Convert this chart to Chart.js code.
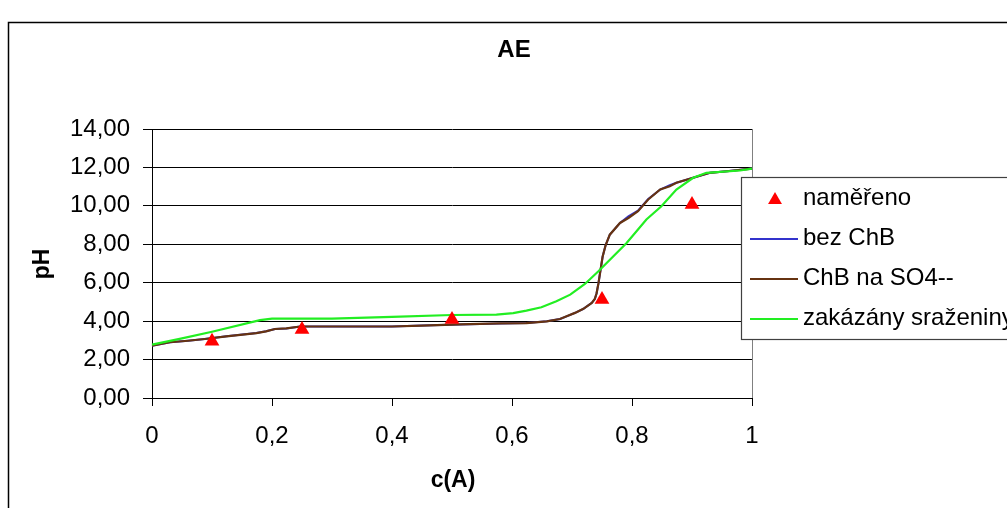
<!DOCTYPE html>
<html>
<head>
<meta charset="utf-8">
<script src="https://cdn.jsdelivr.net/npm/chart.js@4.4.1/dist/chart.umd.min.js"></script>
<style>
html,body{margin:0;padding:0;background:#fff;}
#wrap{width:1007px;height:508px;position:relative;}
</style>
</head>
<body>
<div id="wrap"><canvas id="c" width="1007" height="508"></canvas></div>
<script>
// ---- data ----
const chartTitle = "AE";
const xAxisTitle = "c(A)";
const yAxisTitle = "pH";
const seriesNames = ["naměřeno", "bez ChB", "ChB na SO4--", "zakázány sraženiny"];

const measuredC  = [0.10, 0.25, 0.50, 0.75, 0.90];
const measuredPH = [2.95, 3.56, 4.08, 5.12, 10.07];

const curveC = [0, 0.03, 0.06, 0.088, 0.124, 0.174, 0.19, 0.205, 0.224, 0.247, 0.30, 0.40, 0.45, 0.513, 0.58, 0.624, 0.658, 0.68, 0.691, 0.705, 0.719, 0.733, 0.738, 0.741, 0.744, 0.747, 0.751, 0.756, 0.763, 0.78, 0.794, 0.81, 0.827, 0.847, 0.863, 0.874, 0.902, 0.93, 0.958, 1.0, 1.013];
const bezChbPH = [2.72, 2.90, 2.98, 3.07, 3.21, 3.38, 3.47, 3.59, 3.62, 3.72, 3.72, 3.72, 3.77, 3.83, 3.88, 3.90, 3.99, 4.11, 4.25, 4.43, 4.64, 4.95, 5.15, 5.45, 5.95, 6.55, 7.35, 7.95, 8.50, 9.11, 9.45, 9.75, 10.36, 10.85, 11.08, 11.2, 11.46, 11.72, 11.80, 11.94, 11.94];
const chbSo4PH = [2.72, 2.90, 2.98, 3.07, 3.21, 3.38, 3.47, 3.59, 3.62, 3.72, 3.72, 3.72, 3.77, 3.83, 3.88, 3.90, 3.99, 4.11, 4.25, 4.43, 4.64, 4.95, 5.15, 5.45, 5.95, 6.55, 7.35, 7.95, 8.50, 9.11, 9.37, 9.72, 10.33, 10.85, 11.02, 11.2, 11.46, 11.72, 11.80, 11.94, 11.94];

const greenC  = [0, 0.05, 0.10, 0.18, 0.20, 0.30, 0.40, 0.50, 0.574, 0.602, 0.624, 0.649, 0.674, 0.697, 0.713, 0.722, 0.744, 0.769, 0.791, 0.824, 0.849, 0.874, 0.902, 0.924, 0.98, 1.0];
const greenPH = [2.78, 3.10, 3.45, 4.05, 4.13, 4.13, 4.22, 4.32, 4.34, 4.42, 4.55, 4.72, 5.03, 5.38, 5.75, 5.95, 6.60, 7.38, 8.07, 9.29, 9.98, 10.85, 11.46, 11.72, 11.84, 11.94];

const xTicks = [0, 0.2, 0.4, 0.6, 0.8, 1];
const yTicks = [0, 2, 4, 6, 8, 10, 12, 14];

const colors = ["#ff0000", "#3333cc", "#663311", "#22ee22"];

// ---- build ----
const pts = (xs, ys) => xs.map((x, i) => ({x: x, y: ys[i]}));
const FONT = "'Liberation Sans', Arial, sans-serif";

const datasets = [
  {label: seriesNames[0], data: pts(measuredC, measuredPH), showLine: false, pointStyle: 'triangle', pointRadius: 8.5, pointHoverRadius: 8.5, backgroundColor: colors[0], borderColor: colors[0], borderWidth: 0, order: 0},
  {label: seriesNames[1], data: pts(curveC, bezChbPH), showLine: true, borderColor: colors[1], borderWidth: 2, pointRadius: 0, tension: 0, clip: false, order: 3},
  {label: seriesNames[2], data: pts(curveC, chbSo4PH), showLine: true, borderColor: colors[2], borderWidth: 2.2, pointRadius: 0, tension: 0, clip: false, order: 2},
  {label: seriesNames[3], data: pts(greenC, greenPH), showLine: true, borderColor: colors[3], borderWidth: 2.2, pointRadius: 0, tension: 0, clip: false, order: 1}
];

const decor = {
  id: 'decor',
  beforeDatasetsDraw(chart) {
    const ctx = chart.ctx, a = chart.chartArea;
    ctx.save();
    ctx.strokeStyle = '#808080';
    ctx.lineWidth = 1;
    ctx.beginPath();
    ctx.moveTo(a.right + 0.5, a.top);
    ctx.lineTo(a.right + 0.5, a.bottom);
    ctx.stroke();
    ctx.restore();
  },
  afterDraw(chart) {
    const ctx = chart.ctx;
    ctx.save();
    // outer frame
    ctx.strokeStyle = '#000';
    ctx.lineWidth = 1.5;
    ctx.strokeRect(8.5, 22.5, 2000, 1000);
    // titles
    ctx.fillStyle = '#000';
    ctx.textAlign = 'center';
    ctx.textBaseline = 'middle';
    ctx.font = "bold 24px " + FONT;
    ctx.fillText(chartTitle, 514, 50);
    ctx.font = "bold 23px " + FONT;
    ctx.fillText(xAxisTitle, 453, 481);
    ctx.save();
    ctx.translate(43, 264);
    ctx.rotate(-Math.PI / 2);
    ctx.fillText(yAxisTitle, 0, 0);
    ctx.restore();
    // legend
    ctx.fillStyle = '#fff';
    ctx.fillRect(741, 177, 400, 162);
    ctx.strokeStyle = '#404040';
    ctx.lineWidth = 1.2;
    ctx.strokeRect(741.5, 177.5, 400, 162);
    const ds = chart.data.datasets;
    const baseY = [205, 245, 285, 325];
    const midY = [198, 239, 279, 319];
    ctx.font = "24px " + FONT;
    ctx.textAlign = 'left';
    ctx.textBaseline = 'alphabetic';
    ds.forEach((d, i) => {
      if (i === 0) {
        const r = 8, cx = 775, cy = midY[i] + 2;
        ctx.fillStyle = d.backgroundColor;
        ctx.beginPath();
        ctx.moveTo(cx, cy - r);
        ctx.lineTo(cx + r * Math.sin(Math.PI * 2 / 3), cy + r / 2);
        ctx.lineTo(cx - r * Math.sin(Math.PI * 2 / 3), cy + r / 2);
        ctx.closePath();
        ctx.fill();
      } else {
        ctx.strokeStyle = d.borderColor;
        ctx.lineWidth = 2;
        ctx.beginPath();
        ctx.moveTo(750, midY[i]);
        ctx.lineTo(798, midY[i]);
        ctx.stroke();
      }
      ctx.fillStyle = '#000';
      ctx.fillText(d.label, 803, baseY[i]);
    });
    ctx.restore();
  }
};

new Chart(document.getElementById('c'), {
  type: 'scatter',
  data: {datasets: datasets},
  options: {
    responsive: false,
    animation: false,
    devicePixelRatio: 1,
    layout: {padding: {top: 129, right: 255, bottom: 0, left: 0}},
    plugins: {legend: {display: false}, title: {display: false}, tooltip: {enabled: false}},
    scales: {
      x: {
        type: 'linear', min: 0, max: 1,
        afterFit(s) { s.height = 110; },
        afterBuildTicks(s) { s.ticks = xTicks.map(v => ({value: v})); },
        ticks: {
          font: {family: FONT, size: 24}, color: '#000', padding: 16, maxRotation: 0,
          callback: v => String(Math.round(v * 10) / 10).replace('.', ',')
        },
        grid: {drawOnChartArea: false, drawTicks: true, tickLength: 8, color: '#000'},
        border: {color: '#000', width: 1}
      },
      y: {
        type: 'linear', min: 0, max: 14,
        afterFit(s) { s.width = 152; },
        afterBuildTicks(s) { s.ticks = yTicks.map(v => ({value: v})); },
        ticks: {
          font: {family: FONT, size: 24}, color: '#000', padding: 13,
          callback: v => v.toFixed(2).replace('.', ',')
        },
        grid: {color: '#000', lineWidth: 1, tickLength: 9},
        border: {color: '#000', width: 1}
      }
    }
  },
  plugins: [decor]
});
</script>
</body>
</html>
